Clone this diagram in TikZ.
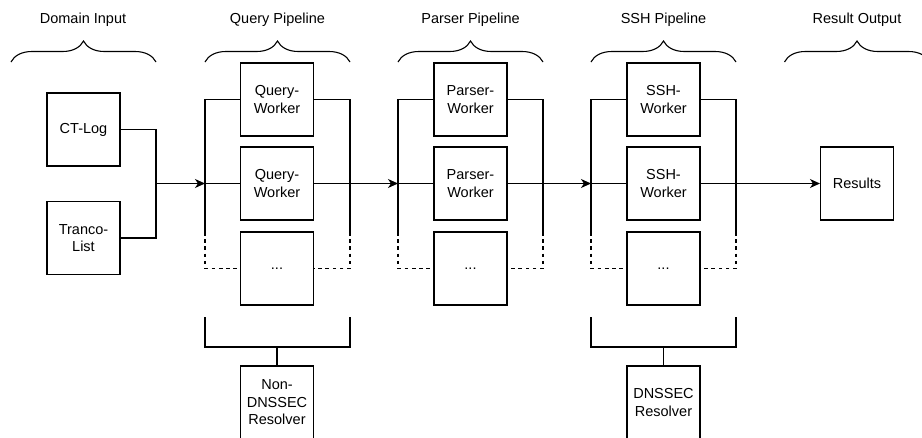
\documentclass[tikz,border=0pt]{standalone}
\usepackage{fontspec}
\setmainfont{Liberation Sans}
\usetikzlibrary{arrows.meta,decorations.pathreplacing}

\tikzset{
  box/.style={rectangle,draw,line width=1.1pt,minimum size=73pt,inner sep=0pt,align=center},
  stage/.style={align=center},
  link/.style={line width=1.1pt},
  flow/.style={line width=1.1pt,-{Stealth[length=10pt,width=9pt,inset=3pt]}},
  gap/.style={line width=1.1pt,dash pattern=on 3.6pt off 3.6pt},
  grp/.style={line width=1.1pt,decorate,decoration={brace,amplitude=21pt}}
}

\begin{document}
\begin{tikzpicture}[x=1pt,y=-1pt,font=\fontsize{14.5}{17.5}\selectfont]
  \useasboundingbox (0,0) rectangle (922,437);
  \clip (0,0) rectangle (922,437);

  % stage titles
  \node[stage] (t0) at (83,20) {Domain Input};
  \node[stage] (t1) at (277.5,20) {Query Pipeline};
  \node[stage] (t2) at (470.5,20) {Parser Pipeline};
  \node[stage] (t3) at (663.5,20) {SSH Pipeline};
  \node[stage] (t4) at (857,20) {Result Output};

  \draw[grp] (11,62) -- (156,62);
  \draw[grp] (205,62) -- (350,62);
  \draw[grp] (398,62) -- (543,62);
  \draw[grp] (591,62) -- (736,62);
  \draw[grp] (784.5,62) -- (929.5,62);

  % input
  \node[box] (ctlog) at (83.5,129.5) {CT-Log};
  \node[box] (tranco) at (83.5,238) {Tranco-\\List};

  % workers
  \node[box] (q1) at (277,99.5) {Query-\\Worker};
  \node[box] (q2) at (277,183.5) {Query-\\Worker};
  \node[box] (q3) at (277,268.5) {...};
  \node[box] (qres) at (277,402.5) {Non-\\DNSSEC\\Resolver};

  \node[box] (p1) at (470.5,99.5) {Parser-\\Worker};
  \node[box] (p2) at (470.5,183.5) {Parser-\\Worker};
  \node[box] (p3) at (470.5,268.5) {...};

  \node[box] (s1) at (663.5,99.5) {SSH-\\Worker};
  \node[box] (s2) at (663.5,183.5) {SSH-\\Worker};
  \node[box] (s3) at (663.5,268.5) {...};
  \node[box] (sres) at (663.5,402.5) {DNSSEC\\Resolver};

  \node[box] (res) at (857,183.5) {Results};

  % rails
  \coordinate (jin) at (156,183.5);
  \coordinate (qin) at (205,183.5);
  \coordinate (qld) at (205,232);
  \coordinate (qrd) at (350,232);
  \coordinate (pin) at (398,183.5);
  \coordinate (pld) at (398,232);
  \coordinate (prd) at (543,232);
  \coordinate (sin) at (591,183.5);
  \coordinate (sld) at (591,232);
  \coordinate (srd) at (736,232);

  \draw[link] (ctlog) -| (jin) |- (tranco);
  \draw[flow] (jin) -- (qin);

  \draw[link] (q1.west) -| (qld);
  \draw[gap] (qld) |- (q3.west);
  \draw[link] (q1.east) -| (qrd);
  \draw[gap] (qrd) |- (q3.east);
  \draw[link] (qin) -- (q2.west);
  \draw[flow] (q2.east) -- (pin);

  \draw[link] (p1.west) -| (pld);
  \draw[gap] (pld) |- (p3.west);
  \draw[link] (p1.east) -| (prd);
  \draw[gap] (prd) |- (p3.east);
  \draw[link] (pin) -- (p2.west);
  \draw[flow] (p2.east) -- (sin);

  \draw[link] (s1.west) -| (sld);
  \draw[gap] (sld) |- (s3.west);
  \draw[link] (s1.east) -| (srd);
  \draw[gap] (srd) |- (s3.east);
  \draw[link] (sin) -- (s2.west);
  \draw[flow] (s2.east) -- (res);

  % resolver brackets
  \coordinate (qbl) at (205,317);
  \coordinate (qbr) at (350,317);
  \coordinate (qbm) at (277,347);
  \draw[link] (qbl) |- (qbm) -| (qbr);
  \draw[link] (qbm) -- (qres);

  \coordinate (sbl) at (591,317);
  \coordinate (sbr) at (736,317);
  \coordinate (sbm) at (663.5,347);
  \draw[link] (sbl) |- (sbm) -| (sbr);
  \draw[link] (sbm) -- (sres);
\end{tikzpicture}
\end{document}
